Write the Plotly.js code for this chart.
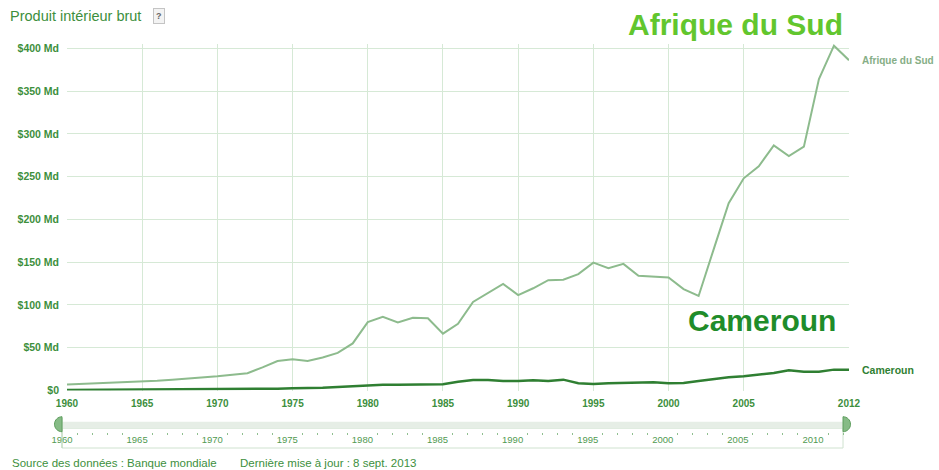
<!DOCTYPE html>
<html>
<head>
<meta charset="utf-8">
<script src="https://cdn.plot.ly/plotly-3.0.1.min.js"></script>
<style>html,body{margin:0;padding:0;background:#fff;}#chart{width:939px;height:470px;}</style>
</head>
<body>
<div id="chart"></div>
<script>
// ---- data (GDP, billions USD "Md") ----
const years = [1960,1961,1962,1963,1964,1965,1966,1967,1968,1969,1970,1971,1972,1973,1974,1975,1976,1977,1978,1979,1980,1981,1982,1983,1984,1985,1986,1987,1988,1989,1990,1991,1992,1993,1994,1995,1996,1997,1998,1999,2000,2001,2002,2003,2004,2005,2006,2007,2008,2009,2010,2011,2012];
const afriqueDuSud = [7.0,7.6,8.2,8.9,9.6,10.3,11.4,12.6,13.8,15.2,16.7,18.5,20.2,27.0,34.5,36.4,34.5,38.5,44.0,55.0,80.0,86.0,79.5,85.0,84.5,66.5,78.0,103.5,113.5,124.5,111.5,119.5,129.0,129.5,136.0,149.5,143.0,148.0,134.0,133.0,132.0,118.5,110.5,165.0,219.0,248.0,262.0,286.5,274.0,285.0,364.0,403.0,386.0];
const cameroun = [0.6,0.65,0.7,0.75,0.8,0.85,0.9,0.95,1.05,1.1,1.2,1.3,1.4,1.7,2.1,2.5,2.7,3.2,4.1,5.0,6.0,6.6,6.6,6.7,6.9,7.3,10.3,12.3,12.3,11.2,11.2,12.0,11.2,12.7,8.5,7.6,8.5,8.8,8.5,9.6,8.5,8.8,11.2,13.5,15.5,16.7,19.0,20.5,23.7,22.0,22.0,24.4,24.4];
const seriesNames = ["Afrique du Sud", "Cameroun"];
const xTickVals = [1960,1965,1970,1975,1980,1985,1990,1995,2000,2005,2012];
const xTickText = ["1960","1965","1970","1975","1980","1985","1990","1995","2000","2005","2012"];
const yTickVals = [0,50,100,150,200,250,300,350,400];
const yTickText = ["$0","$50 Md","$100 Md","$150 Md","$200 Md","$250 Md","$300 Md","$350 Md","$400 Md"];
const sliderTickVals = [1960,1965,1970,1975,1980,1985,1990,1995,2000,2005,2010];
const sliderTickText = ["1960","1965","1970","1975","1980","1985","1990","1995","2000","2005","2010"];
const titleText = "Produit intérieur brut";
const sourceText = "Source des données : Banque mondiale";
const updateText = "Dernière mise à jour : 8 sept. 2013";

// ---- styling ----
const FONT = "Liberation Sans, Arial, Helvetica, sans-serif";
const GREEN = "#3d8f3d";
const GRID = "#d6e9d6";
const SA_COLOR = "#8dbb8d";
const CM_COLOR = "#2f7f32";

// pixel -> paper helpers (paper area: x 62..849, y 44..450)
const PX = x => (x - 62) / 787;
const PY = y => (450 - y) / 406;

const last = years.length - 1;
const minorYears = years.filter(y => y % 5 !== 0);

const traces = [
  {x: years, y: afriqueDuSud, type: "scatter", mode: "lines", name: seriesNames[0],
   line: {color: SA_COLOR, width: 2}, hoverinfo: "x+y"},
  {x: years, y: cameroun, type: "scatter", mode: "lines", name: seriesNames[1],
   line: {color: CM_COLOR, width: 2.5}, hoverinfo: "x+y"},
  {x: [years[0], years[last]], y: [0, 0], xaxis: "x2", yaxis: "y2", mode: "none",
   type: "scatter", hoverinfo: "skip", showlegend: false},
  {x: [years[0], years[last]], y: [0, 0], xaxis: "x3", yaxis: "y2", mode: "none",
   type: "scatter", hoverinfo: "skip", showlegend: false}
];

const r = 7.5, k = 4.14;
const leftHandle = `M0,-${r} C-${k},-${r} -${r},-${k} -${r},0 C-${r},${k} -${k},${r} 0,${r} Z`;
const rightHandle = `M0,-${r} C${k},-${r} ${r},-${k} ${r},0 C${r},${k} ${k},${r} 0,${r} Z`;

const layout = {
  width: 939, height: 470,
  margin: {l: 62, r: 90, t: 44, b: 20},
  paper_bgcolor: "#ffffff", plot_bgcolor: "#ffffff",
  showlegend: false,
  font: {family: FONT, color: GREEN},
  title: {text: titleText, xref: "container", yref: "container", x: 10/939, xanchor: "left",
          y: 1 - 16/470, yanchor: "middle", font: {size: 14.5, color: GREEN, family: FONT}},
  xaxis: {domain: [0.00635, 1], range: [years[0], years[last]], tickvals: xTickVals, ticktext: xTickText,
          showgrid: true, gridcolor: GRID, gridwidth: 1, zeroline: false, showline: false, ticks: "",
          ticklabelstandoff: 5,
          tickfont: {size: 10, color: GREEN, family: FONT, weight: "bold"}, fixedrange: true},
  yaxis: {domain: [0.14655, 1], range: [0, 405], tickvals: yTickVals, ticktext: yTickText,
          showgrid: true, gridcolor: GRID, gridwidth: 1, zeroline: false, showline: false, ticks: "",
          ticklabelstandoff: 7,
          tickfont: {size: 10.5, color: GREEN, family: FONT, weight: "bold"}, fixedrange: true},
  xaxis2: {domain: [0, 0.9924], anchor: "y2", range: [years[0], years[last]],
           tickvals: sliderTickVals, ticktext: sliderTickText, ticklabelposition: "inside",
           ticklabeloverflow: "allow",
           showgrid: false, zeroline: false, showline: false, ticks: "",
           tickfont: {size: 9.5, color: "#519a51", family: FONT}, fixedrange: true},
  xaxis3: {domain: [0, 0.9924], anchor: "free", overlaying: "x2", position: 0.0443,
           range: [years[0], years[last]], tickvals: minorYears, showticklabels: false,
           ticks: "outside", ticklen: 2, tickwidth: 1.2, tickcolor: "#8fbf8f",
           showgrid: false, zeroline: false, showline: false, fixedrange: true},
  yaxis2: {domain: [0.004926, 0.07882], range: [0, 1], visible: false, fixedrange: true},
  shapes: [
    {type: "rect", xref: "x2 domain", yref: "y2 domain", x0: 0, x1: 1, y0: 0, y1: 0.66,
     line: {color: "#cfe2cf", width: 1}, fillcolor: "rgba(0,0,0,0)", layer: "below"},
    {type: "rect", xref: "x2 domain", yref: "y2 domain", x0: 0, x1: 1, y0: 0.657, y1: 0.877,
     line: {width: 0}, fillcolor: "#e6eee6", layer: "below"},
    {type: "line", xref: "x2 domain", yref: "y2 domain", x0: 0, x1: 0, y0: 0, y1: 1,
     line: {color: "#b9d6b9", width: 1}},
    {type: "path", xref: "x2 domain", yref: "y2 domain", xsizemode: "pixel", ysizemode: "pixel",
     xanchor: 0, yanchor: 0.793, path: leftHandle, fillcolor: "#86bb86", line: {color: "#5e9e5e", width: 1}},
    {type: "path", xref: "x2 domain", yref: "y2 domain", xsizemode: "pixel", ysizemode: "pixel",
     xanchor: 1, yanchor: 0.793, path: rightHandle, fillcolor: "#86bb86", line: {color: "#5e9e5e", width: 1}}
  ],
  annotations: [
    {text: "?", xref: "paper", yref: "paper", x: PX(158.5), y: PY(16), xanchor: "center", yanchor: "middle",
     showarrow: false, font: {size: 9, color: "#666", family: FONT, weight: "bold"}, bordercolor: "#c4c4c4", borderwidth: 1,
     borderpad: 2, bgcolor: "#f3f3f3"},
    {text: seriesNames[0], xref: "paper", yref: "paper", x: PX(845), y: PY(25),
     xanchor: "right", yanchor: "middle", showarrow: false,
     font: {size: 30, color: "#62c62e", family: FONT, weight: "bold"}},
    {text: seriesNames[1], xref: "paper", yref: "paper", x: PX(838), y: PY(320),
     xanchor: "right", yanchor: "middle", showarrow: false,
     font: {size: 30, color: "#1f8c2a", family: FONT, weight: "bold"}},
    {text: seriesNames[0], xref: "x", yref: "y", x: years[last], y: afriqueDuSud[last],
     xanchor: "left", yanchor: "middle", xshift: 11, showarrow: false,
     font: {size: 10, color: "#86ae86", family: FONT, weight: "bold"}},
    {text: seriesNames[1], xref: "x", yref: "y", x: years[last], y: cameroun[last],
     xanchor: "left", yanchor: "middle", xshift: 11, showarrow: false,
     font: {size: 10.5, color: CM_COLOR, family: FONT, weight: "bold"}},
    {text: sourceText, xref: "paper", yref: "paper", x: PX(10), y: PY(463),
     xanchor: "left", yanchor: "middle", showarrow: false,
     font: {size: 11.5, color: GREEN, family: FONT}},
    {text: updateText, xref: "paper", yref: "paper", x: PX(238), y: PY(463),
     xanchor: "left", yanchor: "middle", showarrow: false,
     font: {size: 11.5, color: GREEN, family: FONT}}
  ]
};

Plotly.newPlot("chart", traces, layout, {displayModeBar: false, responsive: false});
</script>
</body>
</html>
